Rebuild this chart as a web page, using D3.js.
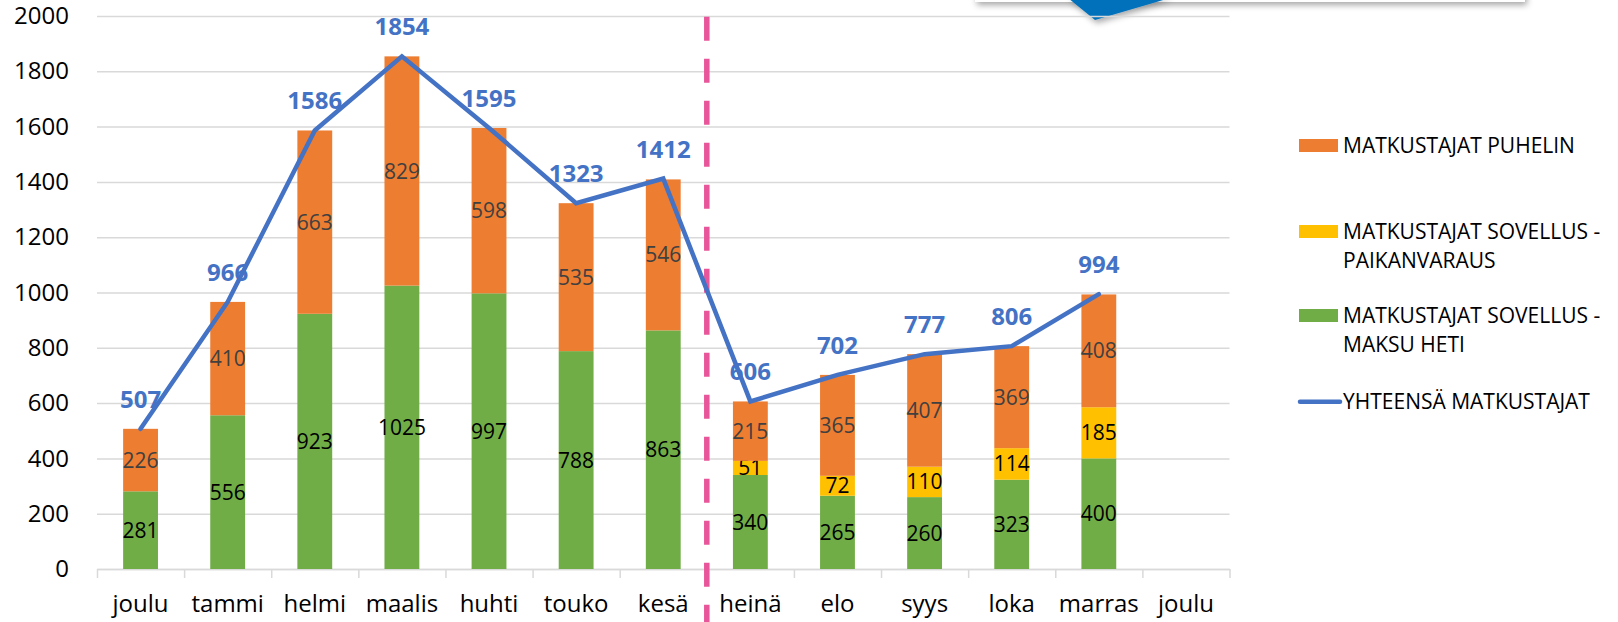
<!DOCTYPE html>
<html>
<head>
<meta charset="utf-8">
<script src="https://cdn.jsdelivr.net/npm/d3@7"></script>
<style>
  body { margin: 0; background: #fff; }
  svg { display: block; font-family: "Open Sans", sans-serif; }
</style>
</head>
<body>
<svg id="chart" width="1618" height="622"></svg>
<script>
// data
const months = ["joulu", "tammi", "helmi", "maalis", "huhti", "touko", "kesä", "heinä", "elo", "syys", "loka", "marras", "joulu"];
const maksuHeti = [281, 556, 923, 1025, 997, 788, 863, 340, 265, 260, 323, 400, null];
const paikanvaraus = [0, 0, 0, 0, 0, 0, 0, 51, 72, 110, 114, 185, null];
const puhelin = [226, 410, 663, 829, 598, 535, 546, 215, 365, 407, 369, 408, null];
const yhteensa = [507, 966, 1586, 1854, 1595, 1323, 1412, 606, 702, 777, 806, 994, null];
const yTicks = [0, 200, 400, 600, 800, 1000, 1200, 1400, 1600, 1800, 2000];
const splitAfter = 7; // dashed line before "heinä"

const keys = ["maksuHeti", "paikanvaraus", "puhelin"];
const colors = {maksuHeti: "#70AD47", paikanvaraus: "#FFC000", puhelin: "#ED7D31"};
const labelColors = {maksuHeti: "#000", paikanvaraus: "#000", puhelin: "#404040"};
const lineColor = "#4472C4";

const svg = d3.select("#chart"),
      width = +svg.attr("width"),
      height = +svg.attr("height"),
      margin = {top: 16, left: 97, right: width - 1229.5, bottom: height - 569};

const idx = d3.range(months.length);
const x = d3.scaleBand().domain(idx)
    .range([margin.left, width - margin.right])
    .paddingInner(0.6).paddingOuter(0.3);
const xEdge = d3.scaleLinear().domain([0, months.length]).range([margin.left, width - margin.right]);
const y = d3.scaleLinear().domain([0, 2000]).range([height - margin.bottom, margin.top]);

// decoration at the top (cut-off shape from the slide)
const defs = svg.append("defs");
const sh = defs.append("filter").attr("id", "shadow").attr("x", "-20%").attr("y", "-50%").attr("width", "140%").attr("height", "250%");
sh.append("feDropShadow").attr("dx", 2).attr("dy", 3).attr("stdDeviation", 3).attr("flood-color", "#000").attr("flood-opacity", 0.35);
svg.append("rect").attr("x", 975).attr("y", -30).attr("width", 550).attr("height", 32)
    .attr("fill", "#fff").attr("filter", "url(#shadow)");
svg.append("path").attr("d", "M1068,-2 L1095,20 L1170,-2 Z")
    .attr("fill", "#0071BA").attr("filter", "url(#shadow)");

// gridlines
svg.append("g")
    .attr("transform", `translate(${margin.left},0)`)
    .call(d3.axisLeft(y).tickValues(yTicks).tickSize(-(width - margin.left - margin.right)).tickFormat(""))
    .call(g => g.select(".domain").remove())
    .call(g => g.selectAll("line").attr("stroke", "#D9D9D9").attr("stroke-width", 1.5));

// y labels
svg.append("g")
    .attr("transform", `translate(${margin.left - 28},0)`)
    .call(d3.axisLeft(y).tickValues(yTicks).tickSize(0).tickPadding(0).tickFormat(d3.format("d")))
    .call(g => g.select(".domain").remove())
    .call(g => g.selectAll("text").attr("font-size", 24).attr("font-family", "Open Sans").attr("fill", "#000"));

// x axis line + ticks at category edges
svg.append("g")
    .attr("transform", `translate(0,${y(0)})`)
    .call(d3.axisBottom(xEdge).tickValues(d3.range(months.length + 1)).tickSize(9).tickSizeOuter(0).tickFormat(""))
    .call(g => g.select(".domain").attr("stroke", "#D9D9D9").attr("stroke-width", 1.5))
    .call(g => g.selectAll("line").attr("stroke", "#D9D9D9").attr("stroke-width", 1.5));

// x labels
svg.append("g")
    .attr("transform", `translate(0,${y(0)})`)
    .call(d3.axisBottom(x).tickSize(0).tickPadding(26).tickFormat(i => months[i]))
    .call(g => g.select(".domain").remove())
    .call(g => g.selectAll("text").attr("font-size", 24).attr("font-family", "Open Sans").attr("fill", "#000"));

// stacked bars
const table = idx.filter(i => maksuHeti[i] != null).map(i => ({
    i: i, maksuHeti: maksuHeti[i], paikanvaraus: paikanvaraus[i], puhelin: puhelin[i]
}));
const stacked = d3.stack().keys(keys)(table);

stacked.forEach(layer => {
    const key = layer.key;
    svg.append("g").selectAll("rect")
        .data(layer)
        .join("rect")
        .attr("x", d => x(d.data.i))
        .attr("y", d => y(d[1]))
        .attr("width", x.bandwidth())
        .attr("height", d => y(d[0]) - y(d[1]))
        .attr("fill", colors[key]);

    svg.append("g").selectAll("text")
        .data(layer.filter(d => d.data[key] > 0))
        .join("text")
        .attr("x", d => x(d.data.i) + x.bandwidth() / 2)
        .attr("y", d => y((d[0] + d[1]) / 2))
        .attr("dy", "0.36em")
        .attr("text-anchor", "middle")
        .attr("font-size", 21)
        .attr("fill", labelColors[key])
        .text(d => d.data[key]);
});

// dashed separator
svg.append("line")
    .attr("x1", xEdge(splitAfter)).attr("x2", xEdge(splitAfter))
    .attr("y1", y(2000) + 0.7).attr("y2", height)
    .attr("stroke", "#E8559A")
    .attr("stroke-width", 5.5)
    .attr("stroke-dasharray", "24,18");

// total line
const linePts = idx.filter(i => yhteensa[i] != null);
svg.append("path")
    .datum(linePts)
    .attr("d", d3.line().x(i => x(i) + x.bandwidth() / 2).y(i => y(yhteensa[i])))
    .attr("fill", "none")
    .attr("stroke", lineColor)
    .attr("stroke-width", 4.5)
    .attr("stroke-linecap", "round");

svg.append("g").selectAll("text")
    .data(linePts)
    .join("text")
    .attr("x", i => x(i) + x.bandwidth() / 2)
    .attr("y", i => y(yhteensa[i]) - 21)
    .attr("text-anchor", "middle")
    .attr("font-size", 24)
    .attr("font-weight", "bold")
    .attr("fill", lineColor)
    .text(i => yhteensa[i]);

// legend
const legendItems = [
    {type: "rect", color: colors.puhelin, cy: 145.5, lines: ["MATKUSTAJAT PUHELIN"]},
    {type: "rect", color: colors.paikanvaraus, cy: 231.5, lines: ["MATKUSTAJAT SOVELLUS -", "PAIKANVARAUS"]},
    {type: "rect", color: colors.maksuHeti, cy: 315.5, lines: ["MATKUSTAJAT SOVELLUS -", "MAKSU HETI"]},
    {type: "line", color: lineColor, cy: 401.7, lines: ["YHTEENSÄ MATKUSTAJAT"]}
];
const legend = svg.append("g");
legendItems.forEach(it => {
    if (it.type === "rect") {
        legend.append("rect").attr("x", 1299).attr("y", it.cy - 6.5).attr("width", 39).attr("height", 13).attr("fill", it.color);
    } else {
        legend.append("line").attr("x1", 1300).attr("x2", 1340).attr("y1", it.cy).attr("y2", it.cy)
            .attr("stroke", it.color).attr("stroke-width", 4.5).attr("stroke-linecap", "round");
    }
    const t = legend.append("text").attr("x", 1343).attr("y", it.cy + 7)
        .attr("font-size", 21).attr("fill", "#000");
    it.lines.forEach((l, k) => t.append("tspan").attr("x", 1343).attr("dy", k === 0 ? 0 : 29.5).text(l));
});
</script>
</body>
</html>
